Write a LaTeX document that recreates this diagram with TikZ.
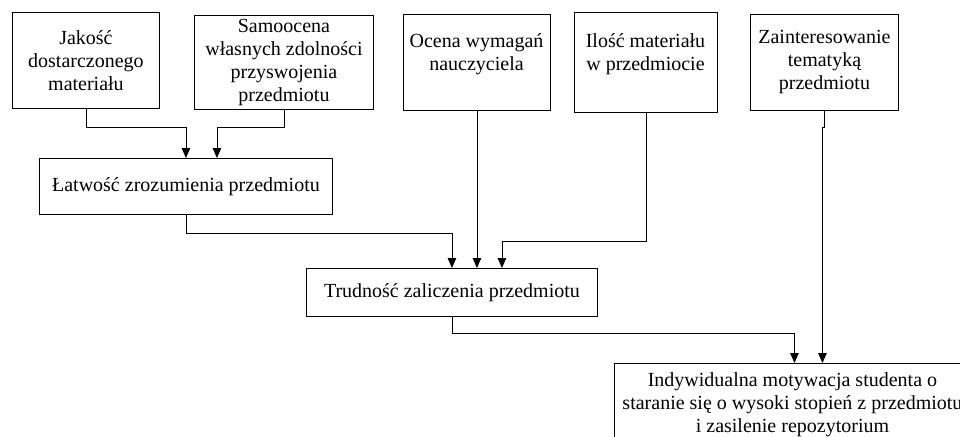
\documentclass[tikz,border=0pt]{standalone}
\usepackage{fontspec}
\setmainfont{Liberation Serif}
\usetikzlibrary{arrows.meta,calc}
\begin{document}
\begin{tikzpicture}[x=1pt,y=-1pt,
  box/.style={draw, line width=0.9pt, inner sep=0pt, anchor=north west, align=center, font=\fontsize{20}{23}\selectfont},
  txt/.style={inner sep=0pt, align=center, font=\fontsize{20}{23}\selectfont},
  arr/.style={line width=0.9pt, -{Triangle[length=10pt,width=8.5pt]}}]
\useasboundingbox (0,0) rectangle (960,436);
\clip (0,0) rectangle (960,436);
% top row
\node[box, minimum width=147pt, minimum height=96pt] (jak) at (12,12) {Jakość\\dostarczonego\\materiału};
\node[box, minimum width=179pt, minimum height=94pt] (sam) at (194,15) {Samoocena\\własnych zdolności\\przyswojenia\\przedmiotu};
\node[box, minimum width=147pt, minimum height=96pt] (oce) at (403,14) {};
\node[txt] (ocet) at (476.5,54) {Ocena wymagań\\nauczyciela};
\node[box, minimum width=143pt, minimum height=100pt] (ilo) at (574,12) {};
\node[txt] (ilot) at (645.5,54) {Ilość materiału\\w przedmiocie};
\node[box, minimum width=148pt, minimum height=96pt] (zai) at (750,14) {Zainteresowanie\\tematyką\\przedmiotu};
% middle
\node[box, minimum width=293pt, minimum height=56pt] (lat) at (39,158) {Łatwość zrozumienia przedmiotu};
\node[box, minimum width=291pt, minimum height=48pt] (tru) at (306,268) {Trudność zaliczenia przedmiotu};
% bottom (cut off by the picture's edge, as in the reference)
\node[box, minimum width=356pt, minimum height=80pt] (ind) at (614,363) {};
\node[txt] (indt) at ([yshift=-1pt]ind.center) {Indywidualna motywacja studenta o\\staranie się o wysoki stopień z przedmiotu\\i zasilenie repozytorium};
% connectors
\draw[arr] (jak.south) -- ++(0,19) -| (lat.north);
\draw[arr] (sam.south) -- ++(0,18) -| ([xshift=31pt]lat.north);
\draw[arr] (lat.south) -- ++(0,19) -| (tru.north);
\draw[arr] (oce.south) -- (oce.south |- tru.north);
\draw[arr] (ilo.south) -- ++(0,129) -| ([xshift=50pt]tru.north);
\draw[arr] (tru.south) -- ++(0,17) -| ([xshift=2pt]ind.north);
\draw[arr] (zai.south) -- ++(0,17) -| ([xshift=-2pt]zai.south |- ind.north);
\end{tikzpicture}
\end{document}
